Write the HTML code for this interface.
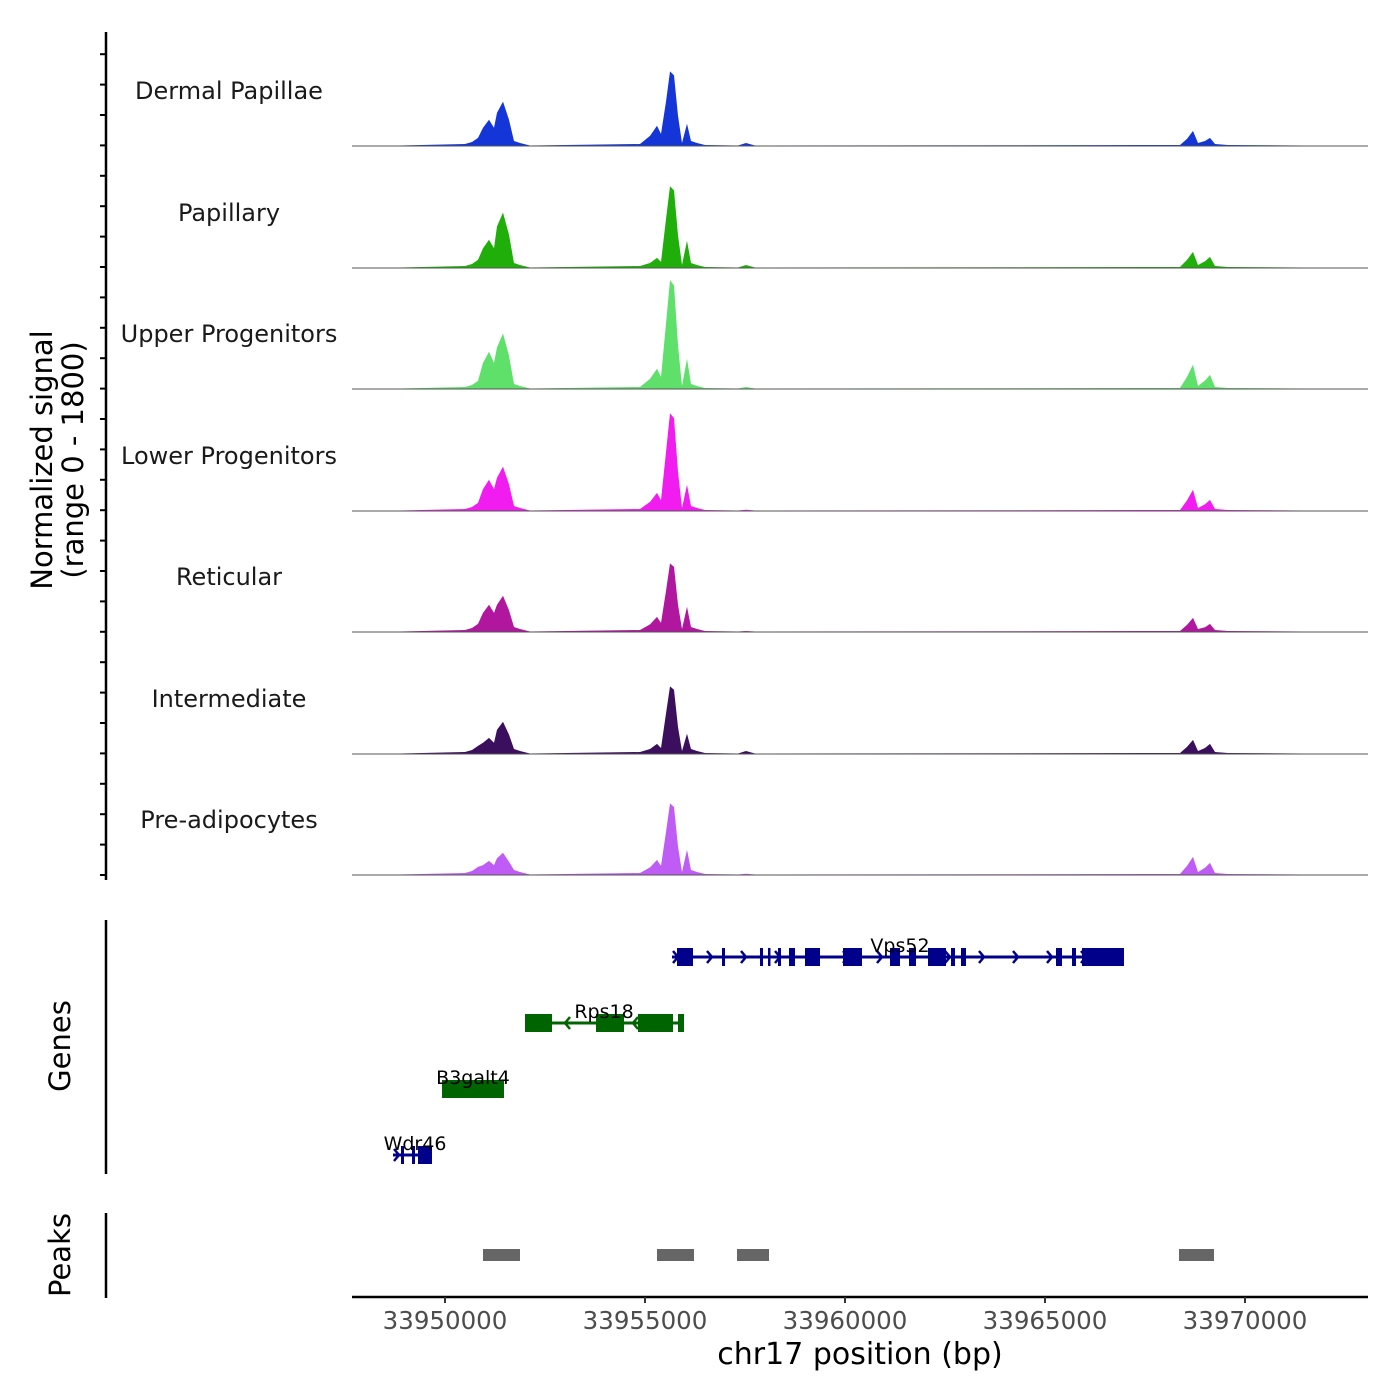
<!DOCTYPE html>
<html><head><meta charset="utf-8"><style>
body{margin:0;background:#fff}
svg{display:block;font-family:"DejaVu Sans","Liberation Sans",sans-serif}
</style></head><body>
<svg id="chart" width="1400" height="1400" viewBox="0 0 1400 1400" xmlns="http://www.w3.org/2000/svg"></svg>
<script>
const positions=[33947675,33948875,33950500,33950675,33950825,33950950,33951100,33951225,33951300,33951450,33951600,33951725,33951875,33952125,33954875,33955125,33955300,33955400,33955525,33955625,33955725,33955825,33955925,33956050,33956150,33956300,33956500,33957325,33957525,33957750,33968375,33968550,33968700,33968825,33969000,33969125,33969250,33969575,33973075];
const trackNames=["Dermal Papillae","Papillary","Upper Progenitors","Lower Progenitors","Reticular","Intermediate","Pre-adipocytes"];
const trackColors=["#1436d8","#1fae0a","#5ee06a","#f01cf0","#b0179e","#3b0f5e","#bf5cf5"];
const dermalValues=[0,8,30,60,120,270,390,270,495,660,390,75,45,8,30,150,300,180,660,1110,1050,450,45,330,75,45,15,8,45,8,15,105,225,45,75,120,30,15,0];
const papillaryValues=[0,8,30,60,120,294,420,294,619,825,495,75,45,8,30,75,150,90,729,1215,1154,486,45,405,75,45,15,8,45,8,15,120,240,45,99,165,30,15,0];
const upperValues=[0,8,30,60,120,389,555,389,619,825,495,75,45,8,30,150,300,180,972,1620,1539,648,45,450,75,45,15,8,30,8,15,180,360,45,126,210,30,15,0];
const lowerValues=[0,8,30,60,120,326,465,326,495,660,396,75,45,8,30,135,270,162,873,1455,1382,582,45,390,75,45,15,8,20,8,15,158,315,45,99,165,30,15,0];
const reticularValues=[0,8,30,60,120,284,405,284,405,540,324,75,45,8,30,113,225,135,612,1020,969,408,45,375,75,45,15,8,15,8,15,105,210,45,72,120,30,15,0];
const intermediateValues=[0,8,30,60,120,168,240,168,360,480,288,75,45,8,30,75,150,90,603,1005,955,402,45,300,75,45,15,8,45,8,15,105,210,45,90,150,30,15,0];
const preadipValues=[0,8,30,60,120,147,210,147,248,330,198,75,45,8,30,113,225,135,639,1065,1012,426,45,375,75,45,15,8,20,8,15,135,270,45,108,180,30,15,0];
const allValues=[dermalValues,papillaryValues,upperValues,lowerValues,reticularValues,intermediateValues,preadipValues];
const xTicks=[33950000,33955000,33960000,33965000,33970000];
const peakStarts=[33950950,33955300,33957300,33968350];
const peakEnds=[33951875,33956225,33958100,33969225];
const geneNames=["Vps52","Rps18","B3galt4","Wdr46"];
const geneStarts=[33955675,33952000,33949925,33948700];
const geneEnds=[33966975,33955975,33951475,33949675];
const geneStrands=["+","-","-","+"];
const geneColors=["#00008b","#006400","#006400","#00008b"];
const geneExons=[
 [[33955800,33956200],[33956925,33957000],[33957875,33957950],[33958075,33958125],[33958325,33958400],[33958600,33958750],[33959000,33959375],[33959950,33960425],[33961125,33961375],[33961600,33961775],[33962075,33962525],[33962650,33962750],[33962900,33963025],[33965275,33965425],[33965675,33965775],[33965925,33966975]],
 [[33952000,33952675],[33953775,33954475],[33954825,33955700],[33955825,33955975]],
 [[33949925,33951475]],
 [[33948900,33948975],[33949175,33949250],[33949325,33949675]]
];
const geneLabelX=[33961375,33953975,33950700,33949250];

const svg=document.getElementById('chart');
const NS='http://www.w3.org/2000/svg';
function mk(tag,attrs,parent){const e=document.createElementNS(NS,tag);for(const k in attrs)e.setAttribute(k,attrs[k]);(parent||svg).appendChild(e);return e;}
const X0=352,X1=1368,B0=33947675,B1=33973075;
function xs(bp){return X0+(bp-B0)/(B1-B0)*(X1-X0);}
const baselines=[146,268,389,511,632,754,875];
const trackH=121,vmax=1800;
function ys(v,base){return base-v/vmax*trackH;}

let ax=mk('line',{x1:106,y1:32,x2:106,y2:880,stroke:'#000','stroke-width':2.5});


for(let y=875;y>=30;y-=30.4){const t=mk('line',{x1:100,y1:y,x2:106,y2:y,stroke:'#000','stroke-width':2});
 
 }
let yt=mk('text',{x:0,y:0,'font-size':29,'text-anchor':'middle',transform:'translate(52,460) rotate(-90)'});


yt.innerHTML='<tspan x="0" dy="0">Normalized signal</tspan><tspan x="0" dy="31">(range 0 - 1800)</tspan>';

allValues.forEach((vals,i)=>{
 const base=baselines[i];
 let d='M'+xs(positions[0])+','+base;
 positions.forEach((p,j)=>{d+=' L'+xs(p).toFixed(1)+','+ys(vals[j],base).toFixed(1);});
 d+=' L'+xs(positions[positions.length-1])+','+base+' Z';
 const a=mk('path',{d:d,fill:trackColors[i]});
 
 
 const bl=mk('line',{x1:X0,y1:base,x2:X1,y2:base,stroke:'#555','stroke-width':1});
 
 
 const lb=mk('text',{x:229,y:base-47,'font-size':24,'text-anchor':'middle',fill:'#1a1a1a'});
 lb.textContent=trackNames[i];
 
 
});

let ga=mk('line',{x1:106,y1:920,x2:106,y2:1174,stroke:'#000','stroke-width':2.5});


let gt=mk('text',{x:0,y:0,'font-size':29,'text-anchor':'middle',transform:'translate(70,1046) rotate(-90)'});
gt.textContent='Genes';


const geneY=[957,1023,1089,1155];
geneNames.forEach((n,i)=>{
 const y=geneY[i],c=geneColors[i];
 const g=mk('g',{});
 
 
 mk('line',{x1:xs(geneStarts[i]),y1:y,x2:xs(geneEnds[i]),y2:y,stroke:c,'stroke-width':3},g);
 for(let x=xs(geneStarts[i])+6;x<xs(geneEnds[i])-4;x+=34){
  const dx=geneStrands[i]=='+'?-5:5;
  mk('polyline',{points:(x+dx)+','+(y-6)+' '+x+','+y+' '+(x+dx)+','+(y+6),fill:'none',stroke:c,'stroke-width':2.5},g);
 }
 geneExons[i].forEach(e=>{mk('rect',{x:xs(e[0]),y:y-9,width:Math.max(2.5,xs(e[1])-xs(e[0])),height:18,fill:c},g);});
 const t=mk('text',{x:xs(geneLabelX[i]),y:y-5,'font-size':19,'text-anchor':'middle',fill:'#000'});
 t.textContent=n;
 
 
});

let pa=mk('line',{x1:106,y1:1213,x2:106,y2:1298,stroke:'#000','stroke-width':2.5});


let pt=mk('text',{x:0,y:0,'font-size':29,'text-anchor':'middle',transform:'translate(70,1255) rotate(-90)'});
pt.textContent='Peaks';


peakStarts.forEach((s,i)=>{
 const r=mk('rect',{x:xs(s),y:1249,width:xs(peakEnds[i])-xs(s),height:12,fill:'#666'});
 
 
});

let xa=mk('line',{x1:X0,y1:1297,x2:X1,y2:1297,stroke:'#000','stroke-width':2.5});


xTicks.forEach(t=>{
 const x=xs(t);
 const tk=mk('line',{x1:x,y1:1297,x2:x,y2:1303,stroke:'#333','stroke-width':2});
 
 
 const l=mk('text',{x:x,y:1329,'font-size':24.5,'text-anchor':'middle',fill:'#4d4d4d'});
 l.textContent=t;
 
 
});
let xt=mk('text',{x:860,y:1364,'font-size':30,'text-anchor':'middle',fill:'#000'});
xt.textContent='chr17 position (bp)';


</script>
</body></html>
